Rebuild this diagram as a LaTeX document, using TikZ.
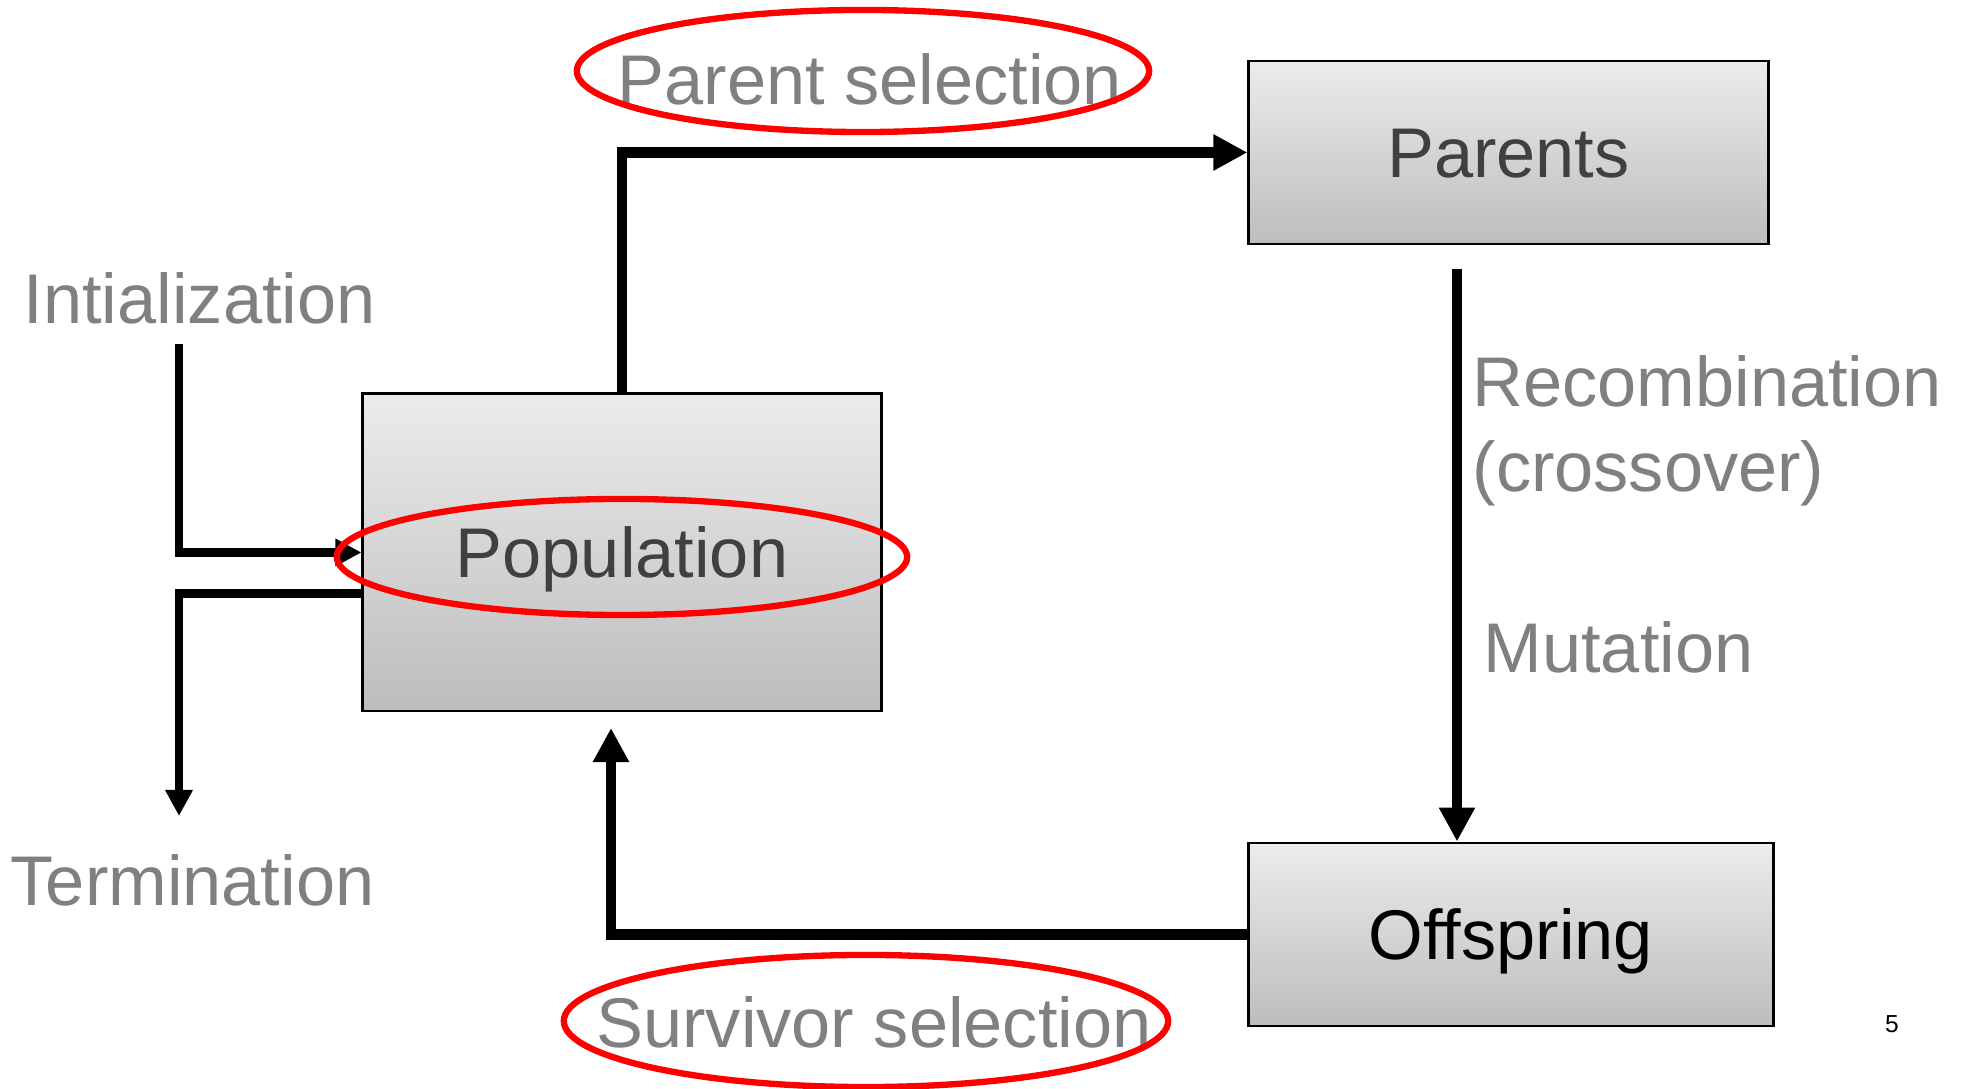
\documentclass[tikz,border=0pt]{standalone}
\usepackage{fontspec}
\setmainfont{Liberation Sans}
\usetikzlibrary{arrows.meta,calc}
\definecolor{boxtop}{RGB}{236,236,236}
\definecolor{boxbottom}{RGB}{189,189,189}
\definecolor{labelgray}{RGB}{128,128,128}
\definecolor{boxtext}{RGB}{64,64,64}
\definecolor{ringred}{RGB}{255,0,0}
\begin{document}
\begin{tikzpicture}[x=0.01cm,y=-0.01cm]
        % Styles
        \tikzstyle{stage box}=[draw=black,line width=0.8pt,top color=boxtop,bottom color=boxbottom,
            text=boxtext,font=\fontsize{20pt}{24pt}\selectfont,text height=14.3pt,text depth=0pt,inner sep=0pt]
        \tikzstyle{step label}=[inner sep=0pt,text=labelgray,font=\fontsize{20pt}{24pt}\selectfont]
        \tikzstyle{main flow}=[line width=3.1pt,-{Triangle[length=0.34cm,width=0.34cm]}]
        \tikzstyle{side flow}=[line width=2.3pt,-{Triangle[length=0.26cm,width=0.26cm]}]
        \tikzstyle{ring}=[draw=ringred,line width=1.8pt]
        \useasboundingbox (0,0) rectangle (1962,1089);
        %boxes
        \node[stage box,minimum width=5.18cm,minimum height=3.17cm] (pop) at (622,552.5) {Population};
        \node[stage box,minimum width=5.19cm,minimum height=1.83cm] (par) at (1508.5,152.5) {Parents};
        \node[stage box,minimum width=5.24cm,minimum height=1.83cm,text=black] (off) at (1511,934.5) {Offspring};
        %labels
        \node[step label,anchor=base] (parsel) at (870,105) {Parent selection};
        \node[step label,anchor=base] (survsel) at (874,1048) {Survivor selection};
        \node[step label,anchor=base west] (init) at (23,324) {Intialization};
        \node[step label,anchor=base west] (term) at (10,906) {Termination};
        \node[step label,anchor=base west] (recomb) at (1472,407) {Recombination};
        \node[step label,anchor=base west] (cross) at (1472,492) {(crossover)};
        \node[step label,anchor=base west] (mut) at (1483,673) {Mutation};
        \node[inner sep=0pt,anchor=base,font=\fontsize{7pt}{8pt}\selectfont] (pagenum) at (1892,1033) {5};
        %free ends
        \coordinate (mutTop) at (1457,269);
        \coordinate (survEnd) at (611,728);
        \coordinate (initTop) at (179,344);
        \coordinate (termEnd) at (179,816);
        %flow
        \draw[main flow] (pop.north) |- (par.west);
        \draw[main flow] (mutTop) -- (mutTop |- off.north);
        \draw[main flow] (off.west) -| (survEnd);
        \draw[side flow] (initTop) |- (pop.west);
        \draw[side flow] ($(pop.west)+(0,41)$) -| (termEnd);
        %rings
        \draw[ring] (863,71) ellipse [x radius=2.86cm,y radius=0.61cm];
        \draw[ring] (622,557) ellipse [x radius=2.85cm,y radius=0.58cm];
        \draw[ring] (866,1021) ellipse [x radius=3.02cm,y radius=0.66cm];
\end{tikzpicture}
\end{document}
